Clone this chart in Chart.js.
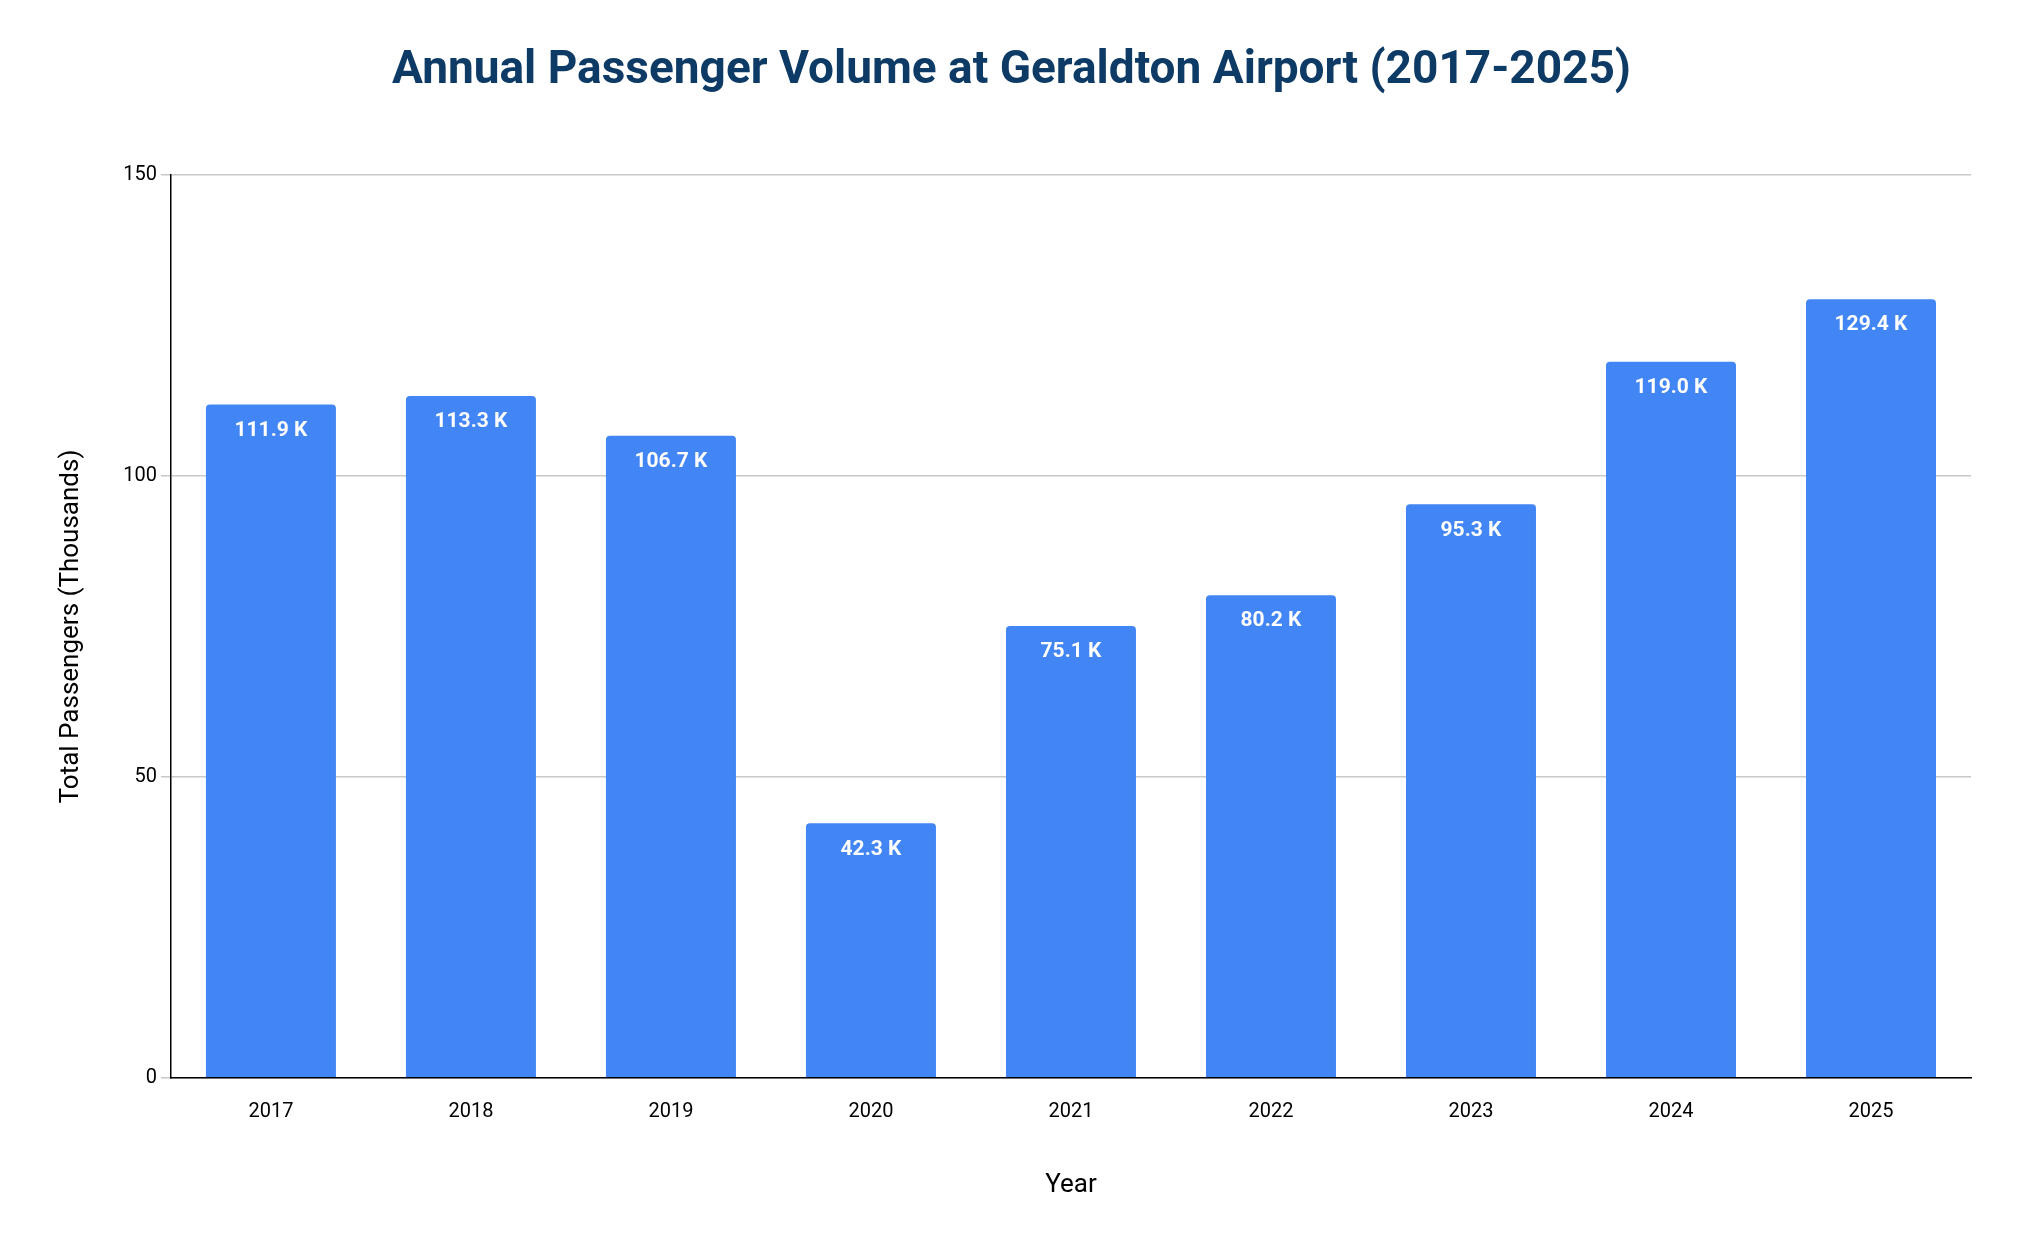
<!DOCTYPE html>
<html><head><meta charset="utf-8">
<script src="https://cdn.jsdelivr.net/npm/chart.js@4"></script>
<style>html,body{margin:0;padding:0;background:#fff}#wrap{width:2024px;height:1250px}</style>
</head><body><div id="wrap"><canvas id="c"></canvas></div>
<script>
const years = ['2017','2018','2019','2020','2021','2022','2023','2024','2025'];
const passengers = [111.9,113.3,106.7,42.3,75.1,80.2,95.3,119.0,129.4];
const yTicks = [0,50,100,150];

const labelPlugin = {
  id:'labels',
  afterDatasetsDraw(chart){
    const ctx = chart.ctx;
    const meta = chart.getDatasetMeta(0);
    ctx.save();
    ctx.fillStyle = '#ffffff';
    ctx.font = 'bold 21px Roboto';
    ctx.textAlign = 'center';
    ctx.textBaseline = 'middle';
    meta.data.forEach((bar,i)=>{
      ctx.fillText(passengers[i].toFixed(1)+' K', bar.x, bar.y + 26);
    });
    ctx.restore();
  }
};

new Chart(document.getElementById('c'), {
  type:'bar',
  data:{labels:years, datasets:[{data:passengers, backgroundColor:'#4285f4', borderRadius:{topLeft:4,topRight:4}, borderSkipped:'bottom', barPercentage:0.65, categoryPercentage:1}]},
  options:{
    responsive:true, maintainAspectRatio:false, animation:false,
    layout:{padding:{left:52,right:53,bottom:45}},
    plugins:{
      legend:{display:false}, tooltip:{enabled:false},
      title:{display:true, text:'Annual Passenger Volume at Geraldton Airport (2017-2025)', color:'#0d3b66', font:{family:'Roboto', size:46, weight:'bold'}, padding:{top:44,bottom:76}}
    },
    scales:{
      x:{grid:{display:false}, border:{color:'#000',width:1.5}, ticks:{color:'#000', font:{family:'Roboto',size:20}, padding:14},
         title:{display:true,text:'Year',color:'#000',font:{family:'Roboto',size:26},padding:{top:32}}},
      y:{min:0,max:150, afterBuildTicks(a){a.ticks=yTicks.map(v=>({value:v}));},
         grid:{color:'#c8c8c8',lineWidth:1.5, drawTicks:true, tickLength:10}, border:{color:'#000',width:1.5},
         ticks:{color:'#000', font:{family:'Roboto',size:20}, padding:4},
         title:{display:true,text:'Total Passengers (Thousands)',color:'#000',font:{family:'Roboto',size:26},padding:{bottom:32}}}
    }
  },
  plugins:[labelPlugin]
});
</script></body></html>
